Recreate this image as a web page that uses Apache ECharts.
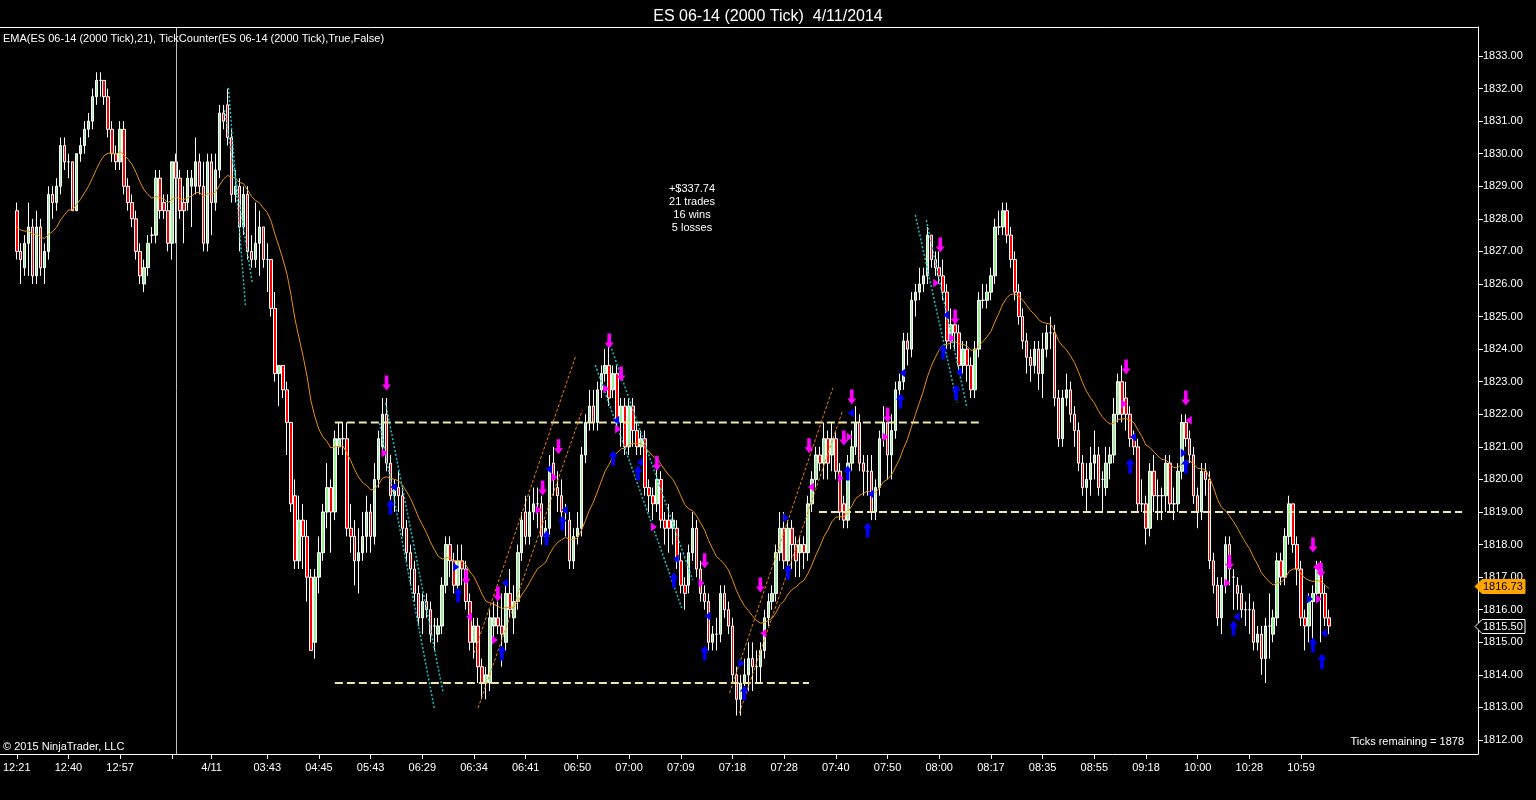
<!DOCTYPE html>
<html>
<head>
<meta charset="utf-8">
<script src="https://cdn.jsdelivr.net/npm/echarts@6/dist/echarts.min.js"></script>
<style>
  html, body { margin: 0; padding: 0; background: #000; }
  #main { width: 1536px; height: 800px; }
</style>
</head>
<body>
<div id="main"></div>
<script>
// ES 06-14 (2000 tick) bars: [open, high, low, close]
var bars = [
  [1828.25,1828.5,1826.75,1827.0],[1827.0,1827.25,1826.0,1826.75],[1826.5,1827.5,1826.25,1827.25],[1827.25,1828.5,1826.25,1827.75],[1827.75,1828.0,1826.0,1826.25],
  [1826.25,1828.25,1826.0,1827.75],[1827.75,1828.0,1826.25,1826.5],[1826.5,1827.25,1826.0,1827.0],[1827.0,1829.0,1826.75,1828.75],[1828.75,1829.0,1828.0,1828.5],
  [1828.5,1829.25,1828.25,1829.0],[1829.0,1830.5,1828.75,1830.25],[1830.25,1830.5,1829.5,1829.75],[1829.75,1830.0,1829.25,1829.75],[1829.75,1829.75,1828.25,1828.25],
  [1828.25,1830.0,1828.25,1830.0],[1830.0,1830.5,1829.75,1830.25],[1830.25,1831.0,1830.0,1830.75],[1830.75,1831.25,1830.5,1831.0],[1831.0,1832.0,1830.75,1831.75],
  [1831.75,1832.5,1831.5,1832.25],[1832.25,1832.5,1831.75,1832.25],[1832.25,1832.25,1831.5,1831.75],[1831.75,1832.0,1830.5,1830.75],[1830.75,1831.0,1829.75,1830.0],
  [1830.0,1830.25,1829.5,1829.75],[1829.75,1831.0,1829.5,1830.75],[1830.75,1831.0,1828.75,1829.0],[1829.0,1829.25,1828.25,1828.5],[1828.5,1828.75,1827.75,1828.0],
  [1828.0,1828.25,1826.75,1827.0],[1827.0,1827.25,1826.0,1826.25],[1826.0,1826.75,1825.75,1826.5],[1826.5,1827.5,1826.25,1827.25],[1827.5,1827.75,1827.25,1827.5],
  [1827.5,1829.5,1827.25,1829.25],[1829.25,1829.5,1828.0,1828.25],[1828.5,1828.75,1828.0,1828.25],[1828.25,1828.75,1827.0,1827.25],[1827.25,1829.75,1826.75,1829.75],
  [1829.75,1830.0,1827.25,1829.25],[1829.25,1829.5,1828.0,1828.25],[1828.5,1829.0,1827.25,1828.25],[1828.5,1829.5,1828.25,1829.25],[1829.0,1829.5,1827.75,1829.25],
  [1829.0,1830.5,1828.75,1829.75],[1829.75,1830.0,1828.75,1829.0],[1829.0,1829.75,1827.0,1827.25],[1827.25,1830.0,1827.0,1829.75],[1829.75,1830.0,1827.5,1828.5],
  [1828.5,1830.0,1828.25,1829.5],[1829.5,1831.5,1829.25,1831.25],[1831.25,1831.5,1830.75,1831.0],[1831.5,1832.0,1830.25,1830.5],[1830.5,1830.75,1828.5,1828.75],
  [1828.75,1829.5,1828.5,1829.0],[1829.0,1829.25,1827.0,1827.75],[1827.75,1829.0,1827.5,1828.75],[1828.75,1829.0,1826.75,1827.0],[1827.0,1827.5,1826.5,1826.75],
  [1826.75,1828.5,1826.5,1827.25],[1827.25,1828.25,1826.25,1827.75],[1827.75,1827.75,1826.5,1826.75],[1826.75,1827.25,1825.75,1826.75],[1826.75,1826.75,1825.0,1825.25],
  [1825.25,1825.75,1823.0,1823.25],[1823.25,1823.5,1822.25,1823.5],[1823.5,1823.5,1822.5,1822.75],[1822.75,1823.0,1820.75,1821.75],[1821.75,1821.75,1819.0,1819.25],
  [1819.5,1820.0,1817.25,1817.5],[1817.5,1819.5,1817.25,1818.75],[1818.75,1819.25,1817.25,1818.25],[1818.25,1818.75,1816.25,1817.0],[1817.0,1817.25,1814.75,1814.75],
  [1815.0,1817.25,1814.5,1817.0],[1817.0,1818.25,1816.5,1817.75],[1817.75,1819.25,1817.5,1819.0],[1819.0,1820.5,1818.5,1819.75],[1819.75,1820.0,1817.75,1819.0],
  [1819.0,1821.5,1818.75,1821.25],[1821.0,1821.75,1820.75,1821.25],[1821.25,1821.75,1820.75,1821.25],[1821.25,1821.75,1818.25,1818.5],[1818.5,1819.25,1817.75,1818.25],
  [1818.25,1818.75,1816.75,1817.5],[1817.5,1818.5,1816.5,1817.75],[1817.75,1819.0,1817.5,1818.25],[1818.25,1819.5,1817.75,1819.0],[1819.0,1819.25,1817.75,1818.25],
  [1818.25,1820.5,1818.0,1820.0],[1820.0,1821.5,1819.75,1821.25],[1821.0,1822.5,1820.75,1822.0],[1822.0,1822.5,1820.25,1820.5],[1820.5,1820.75,1819.25,1819.5],
  [1819.5,1820.0,1819.0,1819.75],[1819.75,1820.25,1819.0,1819.5],[1819.5,1819.75,1818.25,1818.5],[1818.5,1818.75,1817.5,1817.75],[1817.75,1818.0,1816.75,1817.25],
  [1817.25,1817.5,1816.25,1816.5],[1816.5,1816.75,1815.5,1815.75],[1815.75,1816.5,1815.25,1816.25],[1816.25,1816.5,1815.75,1816.0],[1816.0,1816.25,1815.0,1815.25],
  [1815.5,1815.75,1814.75,1815.5],[1815.25,1815.75,1815.0,1815.5],[1815.5,1817.0,1815.25,1816.75],[1816.75,1818.25,1816.5,1818.0],[1818.0,1818.25,1817.0,1817.5],
  [1817.5,1817.75,1816.5,1816.75],[1816.75,1818.0,1816.5,1817.5],[1817.5,1818.0,1816.75,1817.25],[1817.25,1817.5,1816.0,1816.25],[1816.25,1816.5,1814.75,1815.0],
  [1815.0,1815.75,1814.5,1815.5],[1815.5,1815.75,1813.75,1814.25],[1814.25,1814.5,1813.25,1813.75],[1813.75,1814.25,1813.25,1814.0],[1813.75,1816.0,1813.5,1815.75],
  [1815.5,1816.25,1815.0,1815.75],[1815.75,1816.25,1815.25,1815.5],[1815.5,1816.5,1814.25,1815.25],[1815.0,1816.75,1814.75,1816.5],[1816.5,1817.25,1815.75,1816.0],
  [1815.75,1816.75,1815.25,1816.25],[1816.25,1818.0,1816.0,1817.75],[1817.75,1819.0,1817.5,1818.75],[1819.0,1819.5,1818.0,1818.25],[1818.25,1819.5,1818.0,1819.0],
  [1819.0,1819.75,1818.75,1819.25],[1819.25,1819.75,1818.5,1819.25],[1819.25,1819.5,1818.0,1818.25],[1818.25,1818.75,1818.0,1818.5],[1818.5,1820.75,1818.25,1820.25],
  [1820.5,1821.0,1819.5,1820.0],[1819.75,1820.25,1819.0,1819.5],[1819.5,1820.0,1818.5,1819.0],[1819.0,1819.25,1818.25,1819.0],[1818.75,1819.0,1817.25,1817.5],
  [1817.5,1818.5,1817.25,1818.25],[1818.25,1819.0,1818.0,1818.5],[1818.5,1821.0,1818.25,1820.75],[1820.75,1822.0,1820.5,1821.75],[1821.75,1822.75,1821.5,1822.25],
  [1822.25,1822.75,1821.5,1821.75],[1821.75,1823.0,1821.5,1822.75],[1822.75,1823.5,1822.5,1823.25],[1823.25,1824.0,1823.0,1823.5],[1823.5,1824.25,1822.25,1822.5],
  [1822.75,1823.5,1822.5,1823.25],[1823.25,1823.5,1821.5,1821.75],[1821.75,1822.5,1821.0,1822.25],[1822.25,1822.5,1820.75,1821.0],[1821.0,1822.5,1820.75,1822.25],
  [1822.25,1822.5,1821.0,1821.5],[1821.5,1821.75,1820.75,1821.0],[1821.0,1821.5,1820.75,1821.25],[1821.25,1821.5,1819.5,1819.75],[1819.75,1820.0,1819.0,1819.5],
  [1819.5,1819.75,1818.75,1819.25],[1819.25,1820.5,1819.0,1820.0],[1820.0,1820.25,1818.5,1818.75],[1818.75,1819.0,1818.0,1818.5],[1818.75,1819.25,1817.75,1818.5],
  [1818.5,1819.0,1818.0,1818.75],[1818.5,1818.75,1817.25,1817.5],[1817.5,1817.75,1816.5,1816.75],[1816.75,1817.0,1816.0,1816.5],[1816.75,1818.0,1816.5,1817.75],
  [1817.75,1819.0,1817.5,1818.5],[1818.5,1818.75,1817.0,1817.25],[1817.25,1817.5,1816.25,1816.5],[1816.5,1816.75,1816.0,1816.25],[1816.25,1816.5,1814.75,1815.0],
  [1815.0,1815.5,1814.75,1815.25],[1815.25,1815.75,1814.75,1815.25],[1815.25,1816.75,1815.0,1816.5],[1816.5,1816.75,1815.75,1816.0],[1816.0,1816.25,1815.25,1815.5],
  [1815.5,1815.75,1813.75,1814.0],[1814.0,1814.25,1812.75,1813.25],[1813.25,1814.0,1812.75,1813.75],[1813.75,1814.5,1813.25,1814.0],[1814.0,1815.0,1813.5,1814.5],
  [1814.5,1815.0,1813.5,1814.25],[1814.25,1814.75,1813.75,1814.25],[1814.25,1815.0,1813.75,1814.75],[1814.75,1816.0,1814.5,1815.75],[1815.75,1816.5,1815.5,1816.25],
  [1816.25,1816.75,1816.0,1816.5],[1816.5,1818.0,1816.25,1817.75],[1817.75,1819.0,1817.5,1818.5],[1818.5,1819.0,1817.25,1817.5],[1817.5,1818.75,1817.25,1818.5],
  [1818.5,1818.75,1817.25,1818.0],[1818.0,1818.25,1817.0,1817.5],[1817.75,1818.25,1817.0,1818.0],[1818.0,1818.25,1817.25,1817.75],[1817.75,1819.5,1817.5,1819.25],
  [1819.25,1820.25,1819.0,1820.0],[1820.0,1821.0,1819.75,1820.75],[1820.75,1821.0,1820.25,1820.5],[1820.5,1821.75,1820.0,1821.25],[1821.25,1821.5,1820.0,1820.5],
  [1820.75,1821.75,1820.25,1821.25],[1821.25,1821.5,1820.0,1820.25],[1820.25,1820.5,1818.75,1819.0],[1819.25,1819.5,1818.5,1818.75],[1818.75,1820.75,1818.5,1820.5],
  [1820.5,1821.5,1820.25,1821.0],[1821.0,1822.25,1820.75,1821.75],[1821.75,1822.0,1820.25,1820.5],[1820.5,1820.75,1819.5,1820.25],[1820.25,1820.75,1819.5,1820.25],
  [1820.25,1820.75,1818.75,1819.0],[1819.0,1820.0,1818.75,1819.75],[1819.75,1821.5,1819.5,1821.25],[1821.25,1822.25,1821.0,1821.75],[1821.75,1822.0,1820.0,1820.75],
  [1820.75,1822.0,1820.0,1821.5],[1821.5,1823.0,1821.25,1822.75],[1822.75,1823.25,1822.5,1823.0],[1823.0,1824.5,1822.75,1824.25],[1824.25,1824.5,1823.5,1824.0],
  [1824.0,1825.75,1823.75,1825.5],[1825.5,1826.0,1825.0,1825.75],[1825.75,1826.5,1825.5,1826.0],[1826.0,1826.5,1825.75,1826.25],[1826.25,1827.75,1826.0,1827.5],
  [1827.5,1827.5,1826.5,1826.75],[1826.75,1827.0,1826.25,1826.5],[1826.5,1827.0,1826.0,1826.25],[1826.25,1826.75,1825.5,1825.75],[1825.75,1826.0,1824.0,1824.25],
  [1824.25,1825.25,1824.0,1824.75],[1824.75,1825.0,1824.0,1824.5],[1824.5,1824.75,1823.25,1823.5],[1823.5,1824.25,1823.25,1824.0],[1824.0,1824.25,1823.0,1823.5],
  [1823.5,1823.75,1822.5,1822.75],[1822.75,1824.25,1822.5,1824.0],[1824.0,1825.75,1823.75,1825.5],[1825.5,1826.0,1825.25,1825.5],[1825.5,1826.0,1825.25,1825.75],
  [1825.75,1826.5,1825.5,1826.25],[1826.25,1828.0,1826.0,1827.75],[1827.75,1828.25,1827.5,1827.75],[1827.75,1828.5,1827.5,1828.25],[1828.25,1828.5,1827.25,1827.5],
  [1827.5,1827.75,1826.5,1826.75],[1826.75,1827.0,1825.5,1825.75],[1825.75,1826.0,1824.75,1825.0],[1825.0,1825.25,1824.0,1824.25],[1824.25,1824.5,1823.25,1823.75],
  [1823.75,1824.0,1823.0,1823.5],[1823.5,1824.25,1823.25,1824.0],[1824.0,1824.25,1822.75,1823.25],[1823.25,1824.5,1822.5,1824.0],[1824.0,1824.75,1823.75,1824.5],
  [1824.5,1825.0,1824.0,1824.5],[1824.5,1824.75,1822.25,1822.5],[1822.5,1822.75,1821.0,1821.25],[1821.25,1822.75,1821.0,1822.5],[1822.5,1823.25,1822.25,1822.75],
  [1822.75,1823.0,1821.75,1822.0],[1822.0,1822.25,1821.0,1821.5],[1821.5,1821.75,1820.25,1820.5],[1820.5,1820.75,1819.5,1819.75],[1819.75,1820.5,1819.0,1820.0],
  [1820.0,1821.0,1819.5,1820.5],[1820.5,1821.5,1820.0,1820.75],[1820.75,1821.0,1819.5,1819.75],[1820.0,1820.25,1819.0,1820.0],[1819.75,1821.0,1819.5,1820.5],
  [1820.5,1821.0,1820.0,1820.75],[1820.75,1822.5,1820.5,1822.0],[1822.0,1823.25,1821.75,1823.0],[1823.0,1823.5,1821.75,1822.0],[1822.5,1823.0,1821.5,1822.0],
  [1822.0,1822.25,1821.0,1821.25],[1821.25,1821.5,1820.75,1821.0],[1821.0,1821.25,1819.0,1819.25],[1819.25,1820.0,1819.0,1819.25],[1819.25,1819.5,1818.0,1818.5],
  [1818.5,1820.5,1818.25,1820.25],[1820.25,1820.75,1819.0,1819.5],[1819.5,1820.0,1818.75,1819.5],[1819.5,1819.75,1818.75,1819.5],[1819.5,1820.75,1819.0,1820.5],
  [1820.5,1820.75,1819.0,1819.25],[1819.25,1819.75,1818.75,1819.25],[1819.25,1820.5,1819.0,1820.25],[1820.25,1822.0,1820.0,1821.75],[1821.75,1822.0,1821.0,1821.25],
  [1821.25,1821.5,1820.5,1820.75],[1820.75,1821.0,1819.25,1819.5],[1819.5,1819.75,1818.5,1819.0],[1819.0,1820.5,1818.75,1820.25],[1820.25,1820.5,1819.5,1820.0],
  [1820.0,1820.25,1817.25,1817.5],[1817.5,1817.75,1816.5,1816.75],[1816.75,1817.0,1815.5,1815.75],[1815.75,1817.0,1815.25,1816.75],[1816.75,1818.25,1816.5,1818.0],
  [1818.0,1818.25,1816.75,1817.25],[1817.0,1817.25,1816.0,1817.0],[1816.75,1817.0,1816.0,1816.5],[1816.5,1816.75,1815.75,1816.0],[1816.0,1816.25,1815.5,1816.0],
  [1816.0,1816.5,1815.25,1816.0],[1816.0,1816.25,1814.75,1815.0],[1815.0,1815.5,1814.75,1815.25],[1815.25,1815.5,1814.0,1814.5],[1814.5,1815.75,1813.75,1815.5],
  [1815.5,1816.5,1814.5,1815.5],[1815.25,1816.0,1815.0,1815.75],[1815.75,1817.75,1815.5,1817.5],[1817.5,1817.75,1816.75,1817.0],[1817.0,1818.5,1816.75,1818.25],
  [1818.25,1819.5,1818.0,1819.25],[1819.25,1819.25,1817.75,1818.0],[1818.0,1818.25,1816.75,1817.25],[1817.25,1817.5,1815.5,1815.75],[1815.75,1816.0,1814.75,1815.5],
  [1815.5,1816.5,1815.0,1816.25],[1816.25,1816.75,1815.0,1816.5],[1816.5,1817.5,1816.25,1817.25],[1817.25,1817.5,1815.0,1816.5],[1816.5,1816.75,1815.5,1815.75],
  [1815.75,1816.0,1815.25,1815.5]
];

// time labels on the bar axis (bar index -> text)
var tickIdx  = [0, 13, 26, 39, 49, 63, 76, 89, 102, 115, 128, 141, 154, 167, 180, 193, 206, 219, 232, 245, 258, 271, 284, 297, 310, 323];
var tickText = ['12:21', '12:40', '12:57', ' ', '4/11', '03:43', '04:45', '05:43', '06:29', '06:34', '06:41', '06:50', '07:00', '07:09',
                '07:18', '07:28', '07:40', '07:50', '08:00', '08:17', '08:35', '08:55', '09:18', '10:00', '10:28', '10:59'];
var slots = 368;

var priceTicks = [1812, 1813, 1814, 1815, 1816, 1817, 1818, 1819, 1820, 1821, 1822, 1823, 1824, 1825, 1826, 1827, 1828, 1829, 1830, 1831, 1832, 1833];

var emaPeriod = 21;
var emaSeed = 1827.75;   // EMA level at the first visible bar
var sessionBreak = 40;

// signal markers: [bar position, price]
var downArrows = [[93,1822.96],[149,1824.25],[152,1823.24],[136.25,1821.0],[132.25,1819.74],[121,1816.48],[113,1817.0],[161,1820.5],
  [173,1817.5],[187,1816.76],[199.25,1821.03],[208,1821.27],[210,1822.53],[219,1821.98],[232.25,1827.2],[236,1824.99],[279,1823.45],
  [294,1822.5],[305,1817.46],[326,1817.99],[328,1817.22]];
var upArrows = [[94,1819.15],[111,1816.45],[122,1814.67],[133.25,1818.2],[137.25,1818.66],[150,1820.66],[156.25,1820.2],[165.25,1816.91],
  [173,1814.67],[183,1813.44],[194,1817.16],[209,1820.2],[214,1818.45],[222.25,1822.41],[233,1823.91],[236.25,1822.68],[280,1820.41],
  [294,1820.41],[306,1815.44],[326,1814.92],[328.25,1814.42]];
var magentaRight = [[92.5,1820.81],[120.25,1815.07],[131.25,1819.06],[135.25,1820.07],[148.25,1822.78],[151.25,1821.55],[160.25,1818.54],
  [172.25,1816.82],[207.25,1820.04],[209.5,1821.3],[218.5,1821.3],[231.25,1826.03],[235.25,1824.34],[278.5,1822.32],[304.5,1816.82],[327.5,1816.33]];
var magentaLeft = [[113.75,1815.78],[187.75,1815.28],[199.75,1819.77],[294.75,1821.82],[326.75,1817.31]];
var blueLeft = [[94.75,1819.77],[122.75,1816.82],[133.75,1820.32],[137.75,1819.06],[150.75,1821.82],[156.75,1820.53],[165.75,1817.56],
  [173.75,1815.81],[209.75,1822.04],[214.75,1819.55],[222.75,1823.27],[233.75,1825.05],[237,1823.3],[280.75,1821.3],[306.75,1815.78],[328.75,1815.28]];
var blueRight = [[110.5,1817.31],[182.25,1814.36],[193.5,1818.82],[293.5,1820.81],[325.25,1816.33]];

// drawn trend lines: [[bar, price], [bar, price]]
var tealLines = [
  [[53.25,1832.02],[57.5,1825.35]], [[52.25,1831.34],[59.25,1826.03]],
  [[91.25,1821.73],[105,1812.98]], [[92.75,1822.35],[107.25,1813.44]],
  [[145.5,1823.51],[167.25,1816.05]], [[149.25,1824.13],[170,1816.91]],
  [[226,1828.12],[236.5,1822.35]], [[228.75,1827.96],[239,1822.19]]
];
var orangeLines = [
  [[115,1814.67],[140.5,1823.76]], [[116,1812.98],[142.25,1822.13]],
  [[179.25,1813.44],[205.25,1822.81]], [[181.75,1812.83],[207.75,1822.13]]
];
// horizontal levels: [from bar, to bar, price]
var levels = [[80, 242.5, 1821.75], [80, 199.25, 1813.75], [201.75, 363.5, 1819.0]];

var tagValues = [1816.73, 1815.50];
var statsLines = ['+$337.74', '21 trades', '16 wins', '5 losses'];

var FONT = 'Liberation Sans, Arial, sans-serif';

var categories = [];
for (var i = 0; i < slots; i++) categories.push('');
tickIdx.forEach(function (k, j) { categories[k] = tickText[j]; });

var candleData = bars.map(function (b) { return [b[0], b[3], b[2], b[1]]; });

var ema = [];
var alpha = 2 / (emaPeriod + 1), prev = emaSeed;
bars.forEach(function (b, i) {
  if (i > 0) prev = prev + alpha * (b[3] - prev);
  ema.push(+prev.toFixed(3));
});

var showTick = function (idx, val) { return val !== ''; };

function segSeries(seg, color, width, dash) {
  return {
    type: 'line', xAxisIndex: 1, yAxisIndex: 0, data: seg, showSymbol: false, silent: true,
    lineStyle: { color: color, width: width, type: dash }, z: 4, animation: false
  };
}
function marker(data, path, size, color) {
  return {
    type: 'scatter', xAxisIndex: 1, yAxisIndex: 0, data: data, symbol: path, symbolSize: size,
    itemStyle: { color: color, opacity: 1 }, silent: true, z: 6, animation: false
  };
}

var series = [
  {
    type: 'line', xAxisIndex: 1, yAxisIndex: 0, data: [], silent: true, z: 1,
    markLine: {
      symbol: 'none', silent: true, animation: false, label: { show: false },
      lineStyle: { color: '#c0c0c0', type: 'solid', width: 1 },
      data: [{ xAxis: sessionBreak }]
    }
  },
  {
    type: 'candlestick', xAxisIndex: 0, yAxisIndex: 0, data: candleData, barWidth: 3, z: 2, animation: false,
    itemStyle: { color: '#98f098', color0: '#ff0000', borderColor: '#ffffff', borderColor0: '#ffffff', borderWidth: 1 }
  },
  {
    type: 'line', xAxisIndex: 0, yAxisIndex: 0, data: ema, showSymbol: false, silent: true, z: 3, animation: false,
    lineStyle: { color: '#e8900a', width: 1 }
  }
];
levels.forEach(function (l) {
  series.push(segSeries([[l[0], l[2]], [l[1], l[2]]], '#eee8aa', 2, [8, 4]));
});
tealLines.forEach(function (s) { series.push(segSeries(s, '#19c2c2', 1.5, [2, 2])); });
orangeLines.forEach(function (s) { series.push(segSeries(s, '#f08000', 1, [3, 2])); });
series.push(marker(downArrows, 'path://M3,0 L7,0 L7,9 L10,9 L5,15 L0,9 L3,9 Z', [9, 15], '#ff00ff'));
series.push(marker(upArrows, 'path://M5,0 L10,6 L7,6 L7,15 L3,15 L3,6 L0,6 Z', [9, 15], '#0000ff'));
series.push(marker(magentaRight, 'path://M0,0 L7,5 L0,10 Z', [6, 9], '#ff00ff'));
series.push(marker(magentaLeft, 'path://M7,0 L0,5 L7,10 Z', [6, 9], '#ff00ff'));
series.push(marker(blueLeft, 'path://M7,0 L0,5 L7,10 Z', [6, 9], '#0000ff'));
series.push(marker(blueRight, 'path://M0,0 L7,5 L0,10 Z', [6, 9], '#0000ff'));

var chart = echarts.init(document.getElementById('main'));
chart.setOption({
  backgroundColor: '#000',
  animation: false,
  title: {
    text: 'ES 06-14 (2000 Tick)  4/11/2014', left: 'center', top: 4,
    textStyle: { color: '#fff', fontSize: 16, fontWeight: 'normal', fontFamily: FONT }
  },
  grid: { left: 6, right: 58, top: 27, bottom: 46 },
  xAxis: [
    {
      type: 'category', data: categories, boundaryGap: true,
      axisLine: { show: true, onZero: false, lineStyle: { color: '#fff', width: 1 } },
      axisTick: { show: true, interval: showTick, alignWithLabel: true, length: 5, lineStyle: { color: '#fff' } },
      axisLabel: { interval: showTick, color: '#fff', fontSize: 11, fontFamily: FONT, margin: 8 },
      splitLine: { show: false }
    },
    { type: 'value', min: -0.5, max: slots - 0.5, show: false }
  ],
  yAxis: {
    type: 'value', position: 'right', min: 1811.57, max: 1833.89, scale: true,
    axisLine: { show: true, onZero: false, lineStyle: { color: '#fff', width: 1 } },
    axisTick: { show: true, customValues: priceTicks, length: 5, lineStyle: { color: '#fff' } },
    axisLabel: {
      customValues: priceTicks, color: '#fff', fontSize: 11, fontFamily: FONT, margin: 5,
      formatter: function (v) { return v.toFixed(2); }
    },
    splitLine: { show: false }
  },
  series: series
});

// chart frame pieces, texts and price tags
var gridRect = chart.getModel().getComponent('grid').coordinateSystem.getRect();
var gRight = gridRect.x + gridRect.width, gTop = gridRect.y, gBottom = gridRect.y + gridRect.height;

var graphics = [
  {
    type: 'polyline', silent: true, z: 10,
    shape: { points: [[0, gBottom + 0.5], [gridRect.x, gBottom + 0.5]] },
    style: { stroke: '#fff', lineWidth: 1, fill: null }
  },
  {
    type: 'polyline', silent: true, z: 10,
    shape: { points: [[0, gTop + 0.5], [gRight + 0.5, gTop + 0.5]] },
    style: { stroke: '#fff', lineWidth: 1, fill: null }
  },
  {
    type: 'text', x: 3, y: gTop + 12, silent: true, z: 10,
    style: { text: 'EMA(ES 06-14 (2000 Tick),21), TickCounter(ES 06-14 (2000 Tick),True,False)', fill: '#fff', font: '11px ' + FONT, verticalAlign: 'middle' }
  },
  {
    type: 'text', x: 3, y: gBottom - 7, silent: true, z: 10,
    style: { text: '\u00a9 2015 NinjaTrader, LLC', fill: '#fff', font: '11px ' + FONT, verticalAlign: 'middle' }
  },
  {
    type: 'text', x: gRight - 14, y: gBottom - 12, silent: true, z: 10,
    style: { text: 'Ticks remaining = 1878', fill: '#fff', font: '11px ' + FONT, align: 'right', verticalAlign: 'middle' }
  },
  {
    type: 'text', x: 692, y: 182, silent: true, z: 10,
    style: { text: statsLines.join('\n'), fill: '#fff', font: '11px ' + FONT, align: 'center', lineHeight: 13 }
  }
];
tagValues.forEach(function (v, i) {
  var y = Math.round(chart.convertToPixel({ yAxisIndex: 0 }, v)) + 0.5;
  var x0 = gRight;
  graphics.push({
    type: 'polygon', silent: true, z: 11,
    shape: { points: [[x0 - 3, y], [x0 + 4, y - 7], [x0 + 47, y - 7], [x0 + 47, y + 7], [x0 + 4, y + 7]] },
    style: i === 0 ? { fill: '#ffa500', stroke: '#ffa500' } : { fill: '#000', stroke: '#fff', lineWidth: 1 }
  });
  graphics.push({
    type: 'text', silent: true, z: 12, x: x0 + 5, y: y,
    style: { text: v.toFixed(2), fill: i === 0 ? '#000' : '#fff', font: '11px ' + FONT, verticalAlign: 'middle' }
  });
});
chart.setOption({ graphic: graphics });
</script>
</body>
</html>
